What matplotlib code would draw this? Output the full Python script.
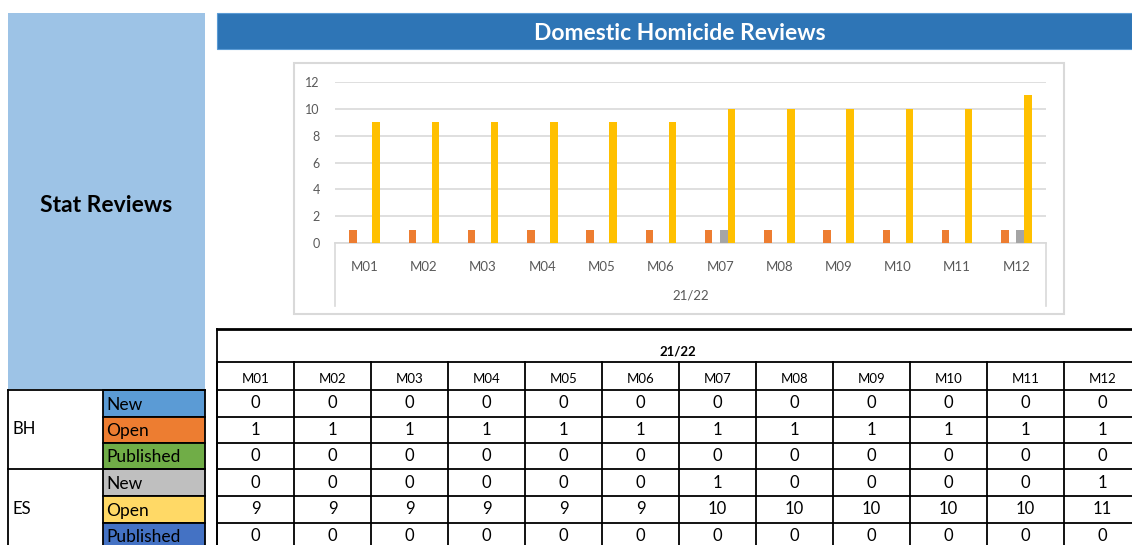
import matplotlib
matplotlib.use("Agg")
import matplotlib.pyplot as plt
from matplotlib.patches import Rectangle
import numpy as np

plt.rcParams['font.family'] = ['Lato', 'DejaVu Sans']

# ---------------- data ----------------
months = ["M01", "M02", "M03", "M04", "M05", "M06", "M07", "M08", "M09", "M10", "M11", "M12"]
period = "21/22"
bh_new = [0, 0, 0, 0, 0, 0, 0, 0, 0, 0, 0, 0]
bh_open = [1, 1, 1, 1, 1, 1, 1, 1, 1, 1, 1, 1]
bh_published = [0, 0, 0, 0, 0, 0, 0, 0, 0, 0, 0, 0]
es_new = [0, 0, 0, 0, 0, 0, 1, 0, 0, 0, 0, 1]
es_open = [9, 9, 9, 9, 9, 9, 10, 10, 10, 10, 10, 11]
es_published = [0, 0, 0, 0, 0, 0, 0, 0, 0, 0, 0, 0]
y_ticks = [0, 2, 4, 6, 8, 10, 12]

series = [bh_new, bh_open, bh_published, es_new, es_open, es_published]
bar_colors = ["#4472C4", "#ED7D31", "#70AD47", "#A5A5A5", "#FFC000", "#5B9BD5"]
row_groups = ["BH", "ES"]
row_labels = ["New", "Open", "Published", "New", "Open", "Published"]
row_colors = ["#5B9BD5", "#ED7D31", "#70AD47", "#BFBFBF", "#FFD966", "#4472C4"]

W, H = 1132, 545
fig = plt.figure(figsize=(W / 100, H / 100), dpi=100)

# background axes in pixel coordinates
bg = fig.add_axes([0, 0, 1, 1])
bg.set_xlim(0, W)
bg.set_ylim(H, 0)
bg.axis("off")

# left light-blue block
bg.add_patch(Rectangle((8, 13), 197, 376, facecolor="#9DC3E6", edgecolor="none"))
bg.text(106, 205, "Stat Reviews", ha="center", va="center", fontsize=16.5,
        fontweight="bold", color="#000000")

# title bar
bg.add_patch(Rectangle((217, 13), W - 217, 36, facecolor="#2E75B6", edgecolor="#5B9BD5", lw=0.8))
bg.text(680, 33.5, "Domestic Homicide Reviews", ha="center", va="center", fontsize=16.5,
        fontweight="bold", color="white")

# chart box
bg.add_patch(Rectangle((294, 63), 770, 251, facecolor="white", edgecolor="#D9D9D9", lw=1.5))

# ---------------- chart ----------------
px0, px1, py0, py1 = 335, 1046, 82, 243
ax = fig.add_axes([px0 / W, 1 - py1 / H, (px1 - px0) / W, (py1 - py0) / H])
ax.set_facecolor("none")
x = np.arange(len(months))
n = len(series)
slot = 0.13
for i, (vals, col) in enumerate(zip(series, bar_colors)):
    ax.bar(x + (i - (n - 1) / 2) * slot, vals, width=slot * 0.98, color=col, zorder=3)
ax.set_xlim(-0.5, len(months) - 0.5)
ax.set_ylim(0, 12)
ax.set_yticks(y_ticks)
ax.set_yticklabels([str(t) for t in y_ticks], fontsize=9, color="#595959")
ax.yaxis.grid(True, color="#D9D9D9", lw=1.2, zorder=0)
ax.tick_params(axis="y", length=0, pad=11)
ax.tick_params(axis="x", length=0, pad=13)
ax.set_xticks(x)
ax.set_xticklabels(months, fontsize=9.5, color="#595959")
for s in ["top", "right", "left"]:
    ax.spines[s].set_visible(False)
ax.spines["bottom"].set_color("#D9D9D9")
ax.spines["bottom"].set_linewidth(1.2)

# multi-level category separators and group label
bg.plot([335, 335], [243, 306], color="#D9D9D9", lw=1.2)
bg.plot([1046, 1046], [243, 306], color="#D9D9D9", lw=1.2)
bg.text((px0 + px1) / 2, 296, period, ha="center", va="center", fontsize=9.5, color="#595959")

# ---------------- table ----------------
tx0 = 217
col_w = 77
ty_top, ty_hdr, ty_mon = 329, 362, 389.5
row_edges = [389.5, 416.5, 443, 469, 496, 522.5, 549]
lw = 1.3
k = "#000000"

bg.plot([tx0, W], [ty_top, ty_top], color=k, lw=2)
bg.plot([tx0, W], [ty_hdr, ty_hdr], color=k, lw=lw)
bg.plot([tx0, tx0], [ty_top, H], color=k, lw=lw)
bg.text(678, 352, period, ha="center", va="center", fontsize=9.5, fontweight="bold", color="#000000")
for j in range(len(months) + 1):
    xx = tx0 + j * col_w
    bg.plot([xx, xx], [ty_hdr, H], color=k, lw=lw)
for yy in row_edges[:-1]:
    bg.plot([tx0, W], [yy, yy], color=k, lw=lw)
for j, m in enumerate(months):
    cx = tx0 + (j + 0.5) * col_w
    bg.text(cx, 379, m, ha="center", va="center", fontsize=9.5, color="#000000")
    for r, vals in enumerate(series):
        cy = (row_edges[r] + row_edges[r + 1]) / 2
        bg.text(cx, cy, str(vals[j]), ha="center", va="center", fontsize=12, color="#000000")

# left row headers
for r in range(len(row_labels)):
    y0 = row_edges[r]
    hgt = row_edges[r + 1] - y0
    bg.add_patch(Rectangle((103, y0), 102, hgt, facecolor=row_colors[r], edgecolor=k, lw=lw))
    bg.text(106, y0 + hgt / 2 + 1.5, row_labels[r], ha="left", va="center", fontsize=12.5, color="#000000")
bg.plot([8, 205], [389.5, 389.5], color=k, lw=lw)
bg.plot([8, 205], [469, 469], color=k, lw=lw)
bg.plot([8, 8], [389.5, H], color=k, lw=lw)
bg.text(12, (389.5 + 469) / 2, row_groups[0], ha="left", va="center", fontsize=12, color="#000000")
bg.text(12, (469 + 549) / 2, row_groups[1], ha="left", va="center", fontsize=12, color="#000000")

fig.savefig("out.png", dpi=100)
